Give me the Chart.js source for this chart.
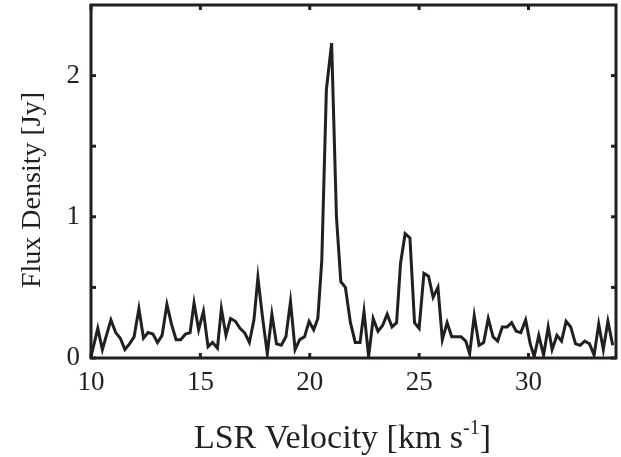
<!DOCTYPE html>
<html>
<head>
<meta charset="utf-8">
<script src="https://cdn.jsdelivr.net/npm/chart.js@4"></script>
<style>
  html, body { margin: 0; padding: 0; background: #fff; }
  #wrap { width: 621px; height: 457px; position: relative; }
</style>
</head>
<body>
<div id="wrap"><canvas id="spec"></canvas></div>
<script>
// LSR velocity of each channel (km/s)
var velocity = [
  10.00, 10.31, 10.52, 10.91, 11.13, 11.34, 11.55, 11.76, 11.97, 12.19,
  12.40, 12.61, 12.83, 13.04, 13.25, 13.47, 13.68, 13.89, 14.10, 14.32,
  14.53, 14.71, 14.92, 15.14, 15.35, 15.56, 15.78, 15.96, 16.17, 16.38,
  16.60, 16.81, 17.02, 17.24, 17.45, 17.63, 17.84, 18.06, 18.27, 18.48,
  18.70, 18.91, 19.12, 19.33, 19.54, 19.76, 19.97, 20.18, 20.37, 20.55,
  20.76, 21.00, 21.22, 21.42, 21.63, 21.86, 22.08, 22.30, 22.48, 22.69,
  22.90, 23.12, 23.33, 23.54, 23.76, 23.97, 24.15, 24.36, 24.58, 24.79,
  25.00, 25.22, 25.43, 25.64, 25.86, 26.06, 26.28, 26.49, 26.70, 26.92,
  27.13, 27.31, 27.52, 27.74, 27.95, 28.16, 28.38, 28.59, 28.80, 29.02,
  29.23, 29.44, 29.65, 29.87, 30.08, 30.26, 30.47, 30.69, 30.90, 31.08,
  31.30, 31.51, 31.72, 31.93, 32.15, 32.36, 32.57, 32.79, 33.00, 33.21,
  33.42, 33.63, 33.85
];
// flux density (Jy)
var flux = [
  0.01, 0.21, 0.06, 0.27, 0.18, 0.14, 0.06, 0.10, 0.15, 0.35,
  0.14, 0.18, 0.17, 0.11, 0.16, 0.38, 0.24, 0.13, 0.13, 0.17,
  0.18, 0.39, 0.20, 0.33, 0.08, 0.11, 0.07, 0.35, 0.16, 0.28,
  0.26, 0.21, 0.18, 0.11, 0.27, 0.57, 0.29, 0.03, 0.31, 0.10,
  0.09, 0.15, 0.40, 0.06, 0.13, 0.15, 0.26, 0.20, 0.28, 0.69,
  1.90, 2.23, 1.00, 0.54, 0.50, 0.25, 0.11, 0.11, 0.33, 0.01,
  0.28, 0.19, 0.23, 0.31, 0.22, 0.25, 0.67, 0.88, 0.85, 0.25,
  0.21, 0.60, 0.58, 0.43, 0.50, 0.13, 0.25, 0.15, 0.15, 0.15,
  0.12, 0.03, 0.30, 0.09, 0.11, 0.28, 0.15, 0.12, 0.22, 0.22,
  0.25, 0.19, 0.18, 0.27, 0.10, 0.01, 0.16, 0.02, 0.22, 0.06,
  0.16, 0.12, 0.26, 0.22, 0.10, 0.09, 0.12, 0.10, 0.02, 0.24,
  0.06, 0.26, 0.09
];
var xTicks = [10, 15, 20, 25, 30];
var yTicks = [0, 0.5, 1, 1.5, 2];
var yLabels = [0, 1, 2];

var ink = '#231f20';
var serif = "'Liberation Serif', 'DejaVu Serif', serif";

var points = [];
for (var i = 0; i < velocity.length; i++) {
  points.push({ x: velocity[i], y: flux[i] });
}

// frame, inward ticks and axis titles
var framePlugin = {
  id: 'frame',
  afterDraw: function (chart) {
    var c = chart.ctx, a = chart.chartArea;
    var xs = chart.scales.x, ys = chart.scales.y;
    c.save();
    c.strokeStyle = ink;
    c.lineWidth = 3;
    c.strokeRect(a.left, a.top, a.right - a.left, a.bottom - a.top);
    xTicks.forEach(function (v) {
      var px = xs.getPixelForValue(v);
      c.beginPath(); c.moveTo(px, a.bottom); c.lineTo(px, a.bottom - 5); c.stroke();
      c.beginPath(); c.moveTo(px, a.top); c.lineTo(px, a.top + 5); c.stroke();
    });
    yTicks.forEach(function (v) {
      var py = ys.getPixelForValue(v);
      c.beginPath(); c.moveTo(a.left, py); c.lineTo(a.left + 5, py); c.stroke();
      c.beginPath(); c.moveTo(a.right, py); c.lineTo(a.right - 5, py); c.stroke();
    });

    c.fillStyle = ink;
    c.textBaseline = 'alphabetic';
    // x title with superscript
    var big = '34px ' + serif, small = '20px ' + serif;
    var t1 = 'LSR Velocity [km s', t2 = '-1', t3 = ']';
    c.font = big; var w1 = c.measureText(t1).width, w3 = c.measureText(t3).width;
    c.font = small; var w2 = c.measureText(t2).width;
    var x0 = (a.left + a.right) / 2 - (w1 + w2 + w3) / 2 - 11;
    var base = 448;
    c.font = big; c.fillText(t1, x0, base);
    c.font = small; c.fillText(t2, x0 + w1, base - 14);
    c.font = big; c.fillText(t3, x0 + w1 + w2, base);

    // y title
    c.translate(40, 190);
    c.rotate(-Math.PI / 2);
    c.textAlign = 'center';
    c.font = '28px ' + serif;
    c.fillText('Flux Density [Jy]', 0, 0);
    c.restore();
  }
};

var ctx = document.getElementById('spec');
var myChart = new Chart(ctx, {
  type: 'line',
  data: {
    datasets: [{
      data: points,
      borderColor: ink,
      borderWidth: 3,
      pointRadius: 0,
      tension: 0,
      fill: false
    }]
  },
  options: {
    responsive: true,
    maintainAspectRatio: false,
    animation: false,
    layout: { padding: { left: 0, top: 5, right: 5, bottom: 0 } },
    plugins: { legend: { display: false }, tooltip: { enabled: false } },
    scales: {
      x: {
        type: 'linear',
        min: 10,
        max: 34,
        grid: { display: false, drawTicks: false },
        border: { display: false },
        afterBuildTicks: function (s) {
          s.ticks = xTicks.map(function (v) { return { value: v }; });
        },
        afterFit: function (s) { s.height = 99; s.paddingLeft = 0; s.paddingRight = 0; },
        ticks: {
          padding: 9,
          color: ink,
          font: { family: serif, size: 27 },
          maxRotation: 0
        }
      },
      y: {
        min: 0,
        max: 2.5,
        grid: { display: false, drawTicks: false },
        border: { display: false },
        afterBuildTicks: function (s) {
          s.ticks = yLabels.map(function (v) { return { value: v }; });
        },
        afterFit: function (s) { s.width = 91; s.paddingTop = 0; s.paddingBottom = 0; },
        ticks: {
          padding: 11,
          color: ink,
          font: { family: serif, size: 27 }
        }
      }
    }
  },
  plugins: [framePlugin]
});
</script>
</body>
</html>
